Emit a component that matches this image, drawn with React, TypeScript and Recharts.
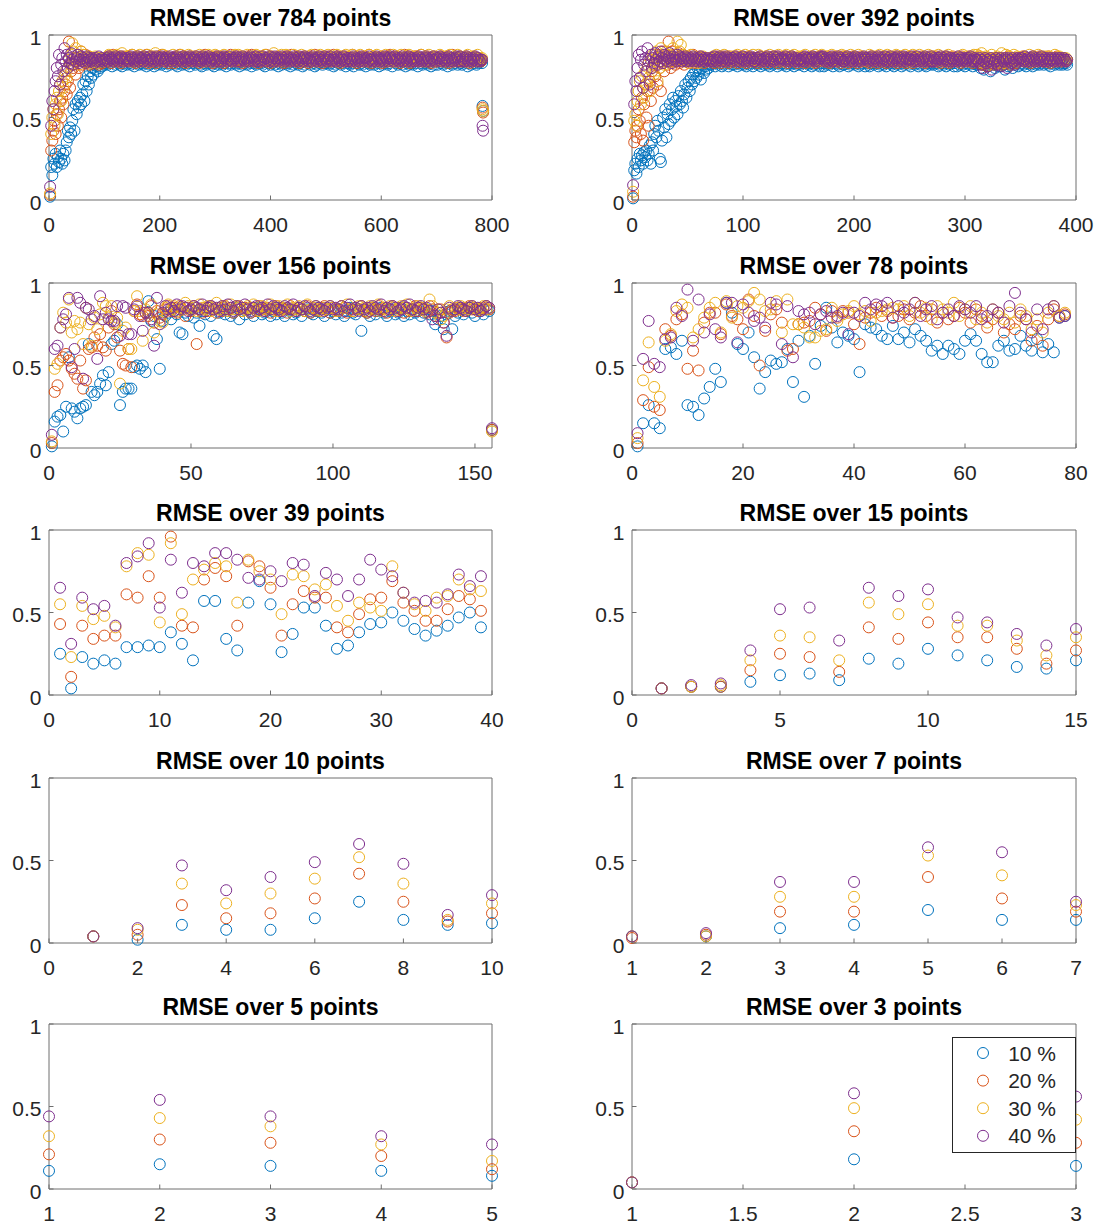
import React from "react";
import { ScatterChart, Scatter, XAxis, YAxis } from "recharts";

// MATLAB default colour order: 10 %, 20 %, 30 %, 40 %
const COLORS = ["#0072BD", "#D95319", "#EDB120", "#7E2F8E"];
const NOISE = ["10 %", "20 %", "30 %", "40 %"];
const FONT = "'Liberation Sans', Arial, Helvetica, sans-serif";
const AXIS = "#6e6e6e";

const seq = (from: number, step: number, n: number) =>
  Array.from({ length: n }, (_, i) => from + step * i);

// ---- RMSE over 784 points (values in hundredths) ----
// x: every 2nd point, plus the last two points
const p1X = [...seq(2, 2, 50), ...seq(102, 2, 341), 783, 784];
const p1Blue = [
  2,20,15,25,22,28,20,26,23,30, 25,22,28,24,30,35,42,38,44,40, 48,55,42,58,52,60,56,62,58,64, 70,60,72,66,75,70,78,74,80,76, 82,79,81,78,83,80,84,81,83,82,
  83,85,82,84,86,83,81,85,84,82,84,83,86,82,85,81,84,83,85,82,
  84,86,83,82,85,84,81,83,86,84,82,85,83,84,82,86,83,81,85,84,
  82,84,85,83,81,86,84,82,83,85,84,82,86,83,84,81,85,83,82,84,
  85,83,84,82,86,81,83,85,84,82,83,86,84,82,85,83,81,84,86,83,
  84,82,85,83,84,86,82,81,85,84,83,82,84,86,83,85,82,84,81,83,
  86,84,82,85,83,84,82,86,83,81,84,85,83,82,86,84,83,85,82,84,
  83,81,84,86,82,85,83,84,82,85,86,83,81,84,83,85,82,84,86,83,
  85,83,82,84,81,86,84,83,85,82,84,83,86,82,84,85,81,83,84,82,
  84,86,83,85,82,83,84,81,86,84,82,85,83,84,82,86,83,85,81,84,
  82,85,84,83,86,82,84,85,83,81,84,82,86,83,85,84,82,83,85,86,
  83,84,82,86,83,85,81,84,82,85,83,86,84,82,83,85,84,81,86,83,
  85,82,84,83,81,84,86,83,85,82,84,83,82,86,84,81,85,83,84,82,
  84,83,86,82,85,84,83,81,84,86,82,85,83,84,86,82,83,85,84,81,
  86,84,83,85,82,83,85,84,82,86,84,81,83,85,82,84,86,83,82,85,
  83,85,81,84,86,83,82,84,85,83,86,82,84,83,81,85,84,82,86,84,
  82,84,85,83,84,82,86,85,83,81,84,83,85,82,84,86,83,84,82,85,
  84,83,82,85,86,84,83,81,85,84,82,84,86,83,85,82,84,83,85,84,
  83,
  57,54,
];
const p1Orange = [
  3,30,36,42,48,40,52,45,55,60, 50,62,58,66,70,64,72,96,68,78, 82,80,86,76,84,88,80,85,90,82, 86,84,88,83,85,87,82,86,84,85, 83,86,84,85,82,84,86,83,85,84,
  85,86,84,87,85,83,86,88,84,85,87,86,84,85,83,86,87,85,84,86,
  87,84,85,86,88,85,84,83,86,87,85,84,86,85,87,84,86,88,85,83,
  84,86,87,85,84,86,83,85,87,86,84,88,85,86,84,87,85,83,86,85,
  86,85,83,87,86,84,85,88,84,86,85,87,83,85,86,84,87,85,86,84,
  85,87,84,86,85,83,87,86,84,85,88,84,86,87,85,84,86,83,85,87,
  84,86,85,84,87,86,85,83,86,84,87,85,86,88,84,85,86,84,87,85,
  86,84,87,85,83,86,84,85,87,86,84,85,88,86,84,87,85,86,83,85,
  87,85,84,86,85,88,84,86,85,83,87,84,86,85,84,86,87,85,84,86,
  85,83,86,87,84,85,86,84,88,85,86,84,85,87,86,83,85,84,86,87,
  84,86,85,83,87,86,84,85,86,88,84,85,87,84,86,85,83,87,85,84,
  86,87,84,85,86,84,88,85,84,86,87,85,83,86,84,85,87,86,84,85,
  85,84,86,88,84,85,86,83,87,85,84,86,85,87,84,86,85,84,88,86,
  83,85,87,84,86,85,84,86,85,87,83,84,86,85,87,84,86,88,85,84,
  86,84,85,87,85,86,83,85,84,86,88,85,84,87,85,83,86,85,84,87,
  85,87,86,84,85,88,84,86,85,84,86,87,85,84,83,86,85,87,84,86,
  84,85,86,87,84,85,86,84,87,85,83,86,85,88,86,84,85,86,84,85,
  87,85,84,86,85,84,87,86,85,83,86,85,84,87,86,85,84,86,85,84,
  85,
  56,53,
];
const p1Yellow = [
  4,40,50,55,45,58,62,52,66,70, 60,72,68,75,78,74,80,85,82,88, 95,90,86,92,84,88,82,86,90,84, 88,85,83,86,84,87,85,83,86,84, 85,87,84,83,86,85,84,86,85,84,
  86,85,87,88,84,86,85,87,86,84,88,85,86,87,85,89,84,86,85,87,
  85,87,86,84,88,86,85,84,87,86,85,88,84,86,87,85,86,84,88,85,
  87,86,84,85,87,89,85,86,84,87,86,85,88,84,85,87,86,85,84,86,
  84,88,86,85,86,84,87,85,88,86,84,85,87,86,85,88,84,86,87,85,
  86,85,87,84,86,88,85,86,87,84,86,85,84,88,86,85,87,84,86,88,
  85,87,84,86,85,87,86,88,84,85,87,86,85,84,86,87,85,88,86,84,
  88,86,85,87,84,86,85,84,88,86,85,87,86,85,84,86,88,85,87,86,
  84,85,87,86,88,85,84,86,85,87,86,84,89,85,86,84,87,86,85,88,
  86,84,85,88,86,87,85,84,86,85,88,86,84,87,85,86,84,88,85,86,
  87,86,84,85,87,86,88,85,84,86,85,87,86,84,88,85,87,86,84,85,
  85,88,86,84,86,85,87,86,85,88,84,86,85,87,86,84,85,88,86,87,
  86,85,87,88,84,86,85,84,87,86,88,85,84,86,85,87,84,86,88,85,
  84,86,85,87,86,88,84,85,86,84,87,86,85,88,84,86,87,85,86,84,
  88,85,86,84,87,85,86,88,85,86,84,87,85,86,88,84,85,87,86,85,
  86,87,84,86,85,88,86,85,84,87,86,85,88,86,84,85,87,86,85,84,
  85,86,88,85,87,84,86,85,87,86,84,88,85,86,84,87,86,85,88,86,
  87,84,86,85,86,87,85,88,84,86,85,87,86,84,85,86,88,85,86,85,
  86,
  55,54,
];
const p1Purple = [
  8,45,60,55,66,72,80,75,88,70, 82,86,78,92,84,88,80,86,83,89, 85,82,87,84,86,88,83,85,87,84, 86,85,83,87,84,86,85,84,86,85, 83,86,84,85,87,84,85,86,84,85,
  85,86,84,87,85,86,85,84,86,87,85,84,86,85,87,86,84,85,86,85,
  86,84,85,87,86,85,84,86,85,87,84,86,85,86,84,87,85,86,84,85,
  87,85,86,84,85,86,87,85,84,86,85,87,86,84,85,86,85,84,87,86,
  84,86,85,86,87,84,85,86,85,84,87,86,85,84,86,85,87,86,84,85,
  86,85,87,84,85,86,84,85,87,86,85,84,86,87,85,84,86,85,86,84,
  85,87,84,86,85,84,86,87,85,86,84,85,87,85,84,86,85,86,87,84,
  86,84,85,86,87,85,84,86,85,84,86,87,85,86,84,85,87,84,86,85,
  84,85,87,85,86,84,86,85,87,84,85,86,84,87,86,85,84,86,85,87,
  85,86,84,85,87,86,85,84,86,85,87,84,86,85,84,87,86,85,84,86,
  87,85,86,84,85,86,84,87,85,86,85,84,86,87,85,84,85,86,87,85,
  84,86,85,87,84,85,86,85,84,87,86,85,84,86,85,87,84,85,86,84,
  86,85,84,86,87,85,84,86,85,84,86,87,85,84,86,85,86,84,87,85,
  85,84,86,85,84,87,86,85,84,86,85,84,87,86,85,84,86,87,85,86,
  84,87,85,86,85,84,86,85,87,84,86,85,84,86,87,85,84,86,85,84,
  86,85,84,87,86,85,84,85,86,87,84,86,85,84,86,85,87,85,84,86,
  85,86,87,84,85,86,85,84,86,85,87,84,86,85,84,86,85,87,86,84,
  87,84,85,86,84,86,87,85,84,86,85,84,86,85,87,84,86,85,84,85,
  85,
  45,42,
];

// ---- RMSE over 392 points ----
const p2X = seq(1, 1, 392);
const p2Blue = [
  1,18,22,16,25,20,28,24,27,22, 29,26,30,24,28,33,22,35,30,40, 45,38,48,42,25,23,36,50,44,55, 38,52,46,58,48,55,62,50,60,57,
  52,63,58,66,60,56,64,70,62,68, 72,66,74,70,76,72,78,74,80,76, 78,73,80,82,77,81,79,83,80,82,
  82,84,83,85,81,83,84,82,85,83,81,84,82,85,83,84,81,83,85,82,
  84,82,85,83,81,84,83,82,85,84,82,83,81,85,84,82,83,84,81,85,
  83,85,82,84,83,81,84,85,82,83,84,82,85,81,83,84,82,85,83,84,
  81,83,84,82,85,83,82,84,81,85,83,84,82,83,85,81,84,83,82,84,
  85,82,83,84,81,84,85,83,82,84,83,81,85,82,84,83,85,82,81,83,
  84,83,81,85,82,83,84,82,85,83,81,84,83,85,82,84,81,83,84,82,
  82,85,84,83,81,84,82,85,83,84,82,83,85,81,84,82,83,85,84,81,
  83,84,82,81,85,83,84,82,83,85,84,81,83,82,85,84,82,83,81,84,
  85,83,84,82,83,81,85,84,82,83,84,85,81,83,82,84,85,83,82,84,
  81,84,83,85,82,84,83,81,84,82,85,83,84,82,81,85,83,84,82,83,
  84,82,85,83,84,81,82,84,85,83,82,84,81,83,85,82,84,83,85,81,
  83,85,81,84,82,83,85,82,84,81,83,85,84,82,83,84,81,85,83,82,
  82,84,83,80,85,82,79,84,83,81,84,82,78,83,85,82,80,84,83,81,
  84,81,83,85,82,79,84,83,81,85,82,84,80,83,82,85,83,81,84,82,
  83,85,82,84,81,83,85,84,82,83,81,84,85,82,83,84,82,85,83,84,
  82,84,85,83,82,84,81,83,85,84,82,83,84,85,82,83,84,82,83,84,
  83,82,
];
const p2Orange = [
  2,35,42,38,45,55,48,40,62,36, 58,70,50,66,45,72,60,78,68,82, 75,86,70,88,80,66,84,90,78,85, 88,82,96,86,80,90,84,88,82,86,
  84,89,83,87,85,88,82,86,84,87, 85,83,86,84,88,85,83,86,84,85, 87,84,86,85,83,86,84,85,86,84,
  85,84,86,83,85,87,84,86,85,83,86,87,84,85,86,84,83,87,85,86,
  84,86,85,87,83,85,86,84,87,85,84,86,83,85,87,86,84,85,86,84,
  86,85,83,86,84,87,85,84,86,85,87,83,85,86,84,85,87,84,86,85,
  83,87,85,84,86,85,84,86,87,83,85,86,84,87,85,84,86,85,83,86,
  85,84,86,87,85,83,86,85,84,86,85,87,84,86,83,85,84,86,87,85,
  87,85,84,86,85,84,87,83,86,85,84,86,85,87,84,86,85,83,85,87,
  84,86,87,85,83,86,84,85,87,84,86,85,83,86,85,87,84,86,85,84,
  86,85,84,83,87,85,86,84,85,86,83,87,85,84,86,85,87,84,83,86,
  85,87,86,84,85,84,86,87,83,85,86,84,87,85,84,86,83,85,86,87,
  84,85,83,86,87,85,84,86,85,84,87,85,86,83,85,86,84,87,85,84,
  86,84,85,87,84,86,85,83,86,85,84,87,85,86,84,83,86,85,87,85,
  85,86,84,85,86,83,87,85,84,86,85,84,86,87,85,84,83,86,85,86,
  84,85,87,83,86,82,85,84,86,81,85,84,83,86,84,82,85,86,84,83,
  86,84,82,85,84,86,83,85,87,84,82,85,86,84,85,83,86,85,84,86,
  85,87,84,86,85,84,86,85,83,86,87,85,84,86,85,84,87,85,86,84,
  84,86,85,84,87,85,83,86,85,84,86,85,87,84,85,86,84,85,86,85,
  84,85,
];
const p2Yellow = [
  5,48,52,45,60,66,72,58,75,68, 62,78,70,82,74,66,85,80,88,76, 84,90,72,86,80,92,84,88,82,86, 90,84,88,85,83,87,92,86,84,88,
  96,85,90,94,86,88,84,86,85,87, 83,86,88,84,85,87,84,86,85,83, 86,85,84,87,85,86,84,85,86,85,
  86,85,87,84,86,88,85,86,84,87,86,85,88,84,86,87,85,84,86,85,
  87,86,84,85,88,86,85,87,84,86,85,88,86,84,87,85,86,84,88,86,
  85,84,86,88,85,87,84,86,85,84,87,86,85,88,84,86,85,87,86,84,
  86,88,85,84,86,85,87,84,88,86,85,84,86,87,85,88,84,86,85,87,
  84,86,87,85,84,88,86,85,86,84,87,85,84,86,88,85,86,87,84,85,
  88,85,86,84,87,86,85,84,86,88,85,87,86,84,85,86,87,85,88,84,
  85,87,84,86,85,84,88,86,85,87,84,86,85,88,86,84,85,87,86,85,
  86,84,85,88,86,87,85,84,87,85,86,84,88,85,86,87,84,85,86,88,
  87,86,84,85,86,85,87,88,84,86,85,87,84,86,85,88,86,84,87,85,
  84,85,88,86,87,84,86,85,88,84,86,85,87,86,84,85,88,86,85,87,
  86,87,85,84,86,88,85,87,84,86,85,84,86,87,88,85,84,86,85,86,
  85,86,84,87,85,86,84,88,86,85,87,86,84,85,86,84,87,88,85,86,
  88,85,87,84,89,86,83,85,87,84,86,82,85,88,84,86,85,83,87,86,
  84,86,89,85,83,86,88,84,85,87,84,86,85,88,86,84,87,85,84,86,
  86,85,87,86,84,85,86,88,85,84,86,87,85,86,84,88,85,86,87,85,
  85,87,84,86,85,87,86,84,86,85,88,84,86,85,87,86,84,85,86,85,
  86,85,
];
const p2Purple = [
  9,58,72,66,80,88,74,85,90,68, 82,86,78,92,84,70,88,80,86,83, 89,85,82,87,84,90,86,83,88,85, 87,84,86,89,85,83,87,85,86,84,
  88,85,87,86,84,86,85,87,84,86, 85,84,86,85,87,84,86,85,84,86, 85,87,84,85,86,84,85,86,85,84,
  85,86,84,87,85,84,86,85,87,86,84,85,86,84,87,85,86,85,84,86,
  86,85,87,84,85,86,84,86,85,87,85,84,86,85,84,86,87,85,86,84,
  84,86,85,86,87,85,84,85,86,84,86,87,85,84,86,85,84,87,85,86,
  87,85,84,86,85,86,85,87,84,85,86,84,85,87,86,84,85,86,84,85,
  85,84,86,85,84,87,86,85,86,84,85,86,87,85,84,86,85,84,86,87,
  86,87,85,84,86,85,84,86,85,87,84,86,85,84,86,87,85,86,85,84,
  84,85,86,87,85,84,86,85,84,86,87,85,84,86,85,84,86,85,87,86,
  85,86,84,85,86,87,85,84,86,85,84,87,86,85,84,86,85,87,84,85,
  86,84,87,85,84,86,85,86,87,84,85,86,84,85,87,86,84,85,86,85,
  85,87,84,86,85,84,87,85,84,86,85,84,86,87,85,84,86,85,84,87,
  84,86,85,84,86,85,86,87,85,84,86,85,87,84,85,86,84,86,85,84,
  86,85,84,87,85,86,84,85,86,85,84,86,85,86,87,84,85,84,86,85,
  85,84,86,82,85,80,84,86,83,85,81,84,86,79,85,83,84,86,82,85,
  84,86,81,85,84,86,85,80,86,84,85,83,86,84,82,85,86,84,85,86,
  86,85,84,87,85,84,86,85,84,86,87,85,84,86,85,84,86,85,87,84,
  85,86,84,85,86,84,85,86,85,84,86,85,84,86,85,86,84,85,86,85,
  84,85,
];

// ---- RMSE over 156 points ----
const p3X = seq(1, 1, 156);
const p3Blue = [
  1,16,19,20,10,25,55,24,22,18, 24,25,26,63,34,32,34,39,44,38, 46,63,65,75,26,34,36,36,36,49, 50,48,50,46,89,77,80,66,48,77,
  80,82,78,83,81,70,69,82,80,84, 79,82,74,83,81,85,80,68,66,82, 84,81,83,80,82,85,78,83,81,84, 82,80,83,85,81,82,84,80,83,81,
  85,82,80,84,83,81,82,85,80,83, 84,82,81,83,85,82,80,84,82,83,
  81,84,82,80,83,85,82,81,84,71, 83,82,80,84,81,83,85,82,80,83, 84,81,82,85,80,83,81,84,82,83, 80,82,84,81,83,75,78,80,72,81,
  83,72,80,82,84,81,83,85,82,80, 84,83,81,84,83, 11,
];
const p3Orange = [
  3,34,38,53,55,57,53,48,45,42, 53,36,41,60,61,67,62,69,61,59, 73,83,75,67,59,51,50,60,49,83, 87,81,80,82,80,86,76,83,79,81,
  84,86,83,85,82,86,84,80,85,83, 86,63,84,82,85,83,86,84,82,85, 83,86,84,85,82,84,86,83,85,84, 82,85,83,86,84,83,85,82,84,86,
  83,85,84,82,86,84,83,85,84,83, 86,82,85,84,83,85,86,84,82,85,
  84,83,86,85,82,84,83,85,84,86, 83,82,85,84,83,86,84,85,82,84, 86,83,85,84,82,85,83,84,86,83, 85,84,82,86,84,80,82,84,76,67,
  82,84,83,85,84,83,85,86,84,85, 83,84,85,86,84, 11,
];
const p3Yellow = [
  4,48,51,73,82,76,90,70,77,72, 76,63,85,75,62,79,72,81,88,86, 79,86,76,79,39,71,73,60,60,83, 92,83,65,84,82,87,70,81,77,76,
  85,87,84,86,83,85,84,88,86,84, 85,83,87,85,84,86,83,85,88,84, 86,85,83,87,84,86,85,83,84,86, 85,87,84,83,86,85,84,87,85,83,
  86,84,85,87,83,85,84,86,85,83, 87,84,85,86,84,83,85,84,86,85,
  83,84,86,85,87,84,83,85,86,84, 85,83,86,85,84,87,83,85,84,86, 85,83,84,86,85,87,84,83,85,86, 84,85,83,90,86,82,84,78,80,84,
  86,83,85,84,86,85,83,84,86,85, 84,85,86,84,85, 10,
];
const p3Purple = [
  8,60,62,73,78,81,91,49,60,91, 88,42,85,84,78,80,54,92,78,82, 78,77,77,86,68,86,85,69,69,84, 86,80,71,82,82,78,62,91,75,82,
  86,84,85,83,87,84,86,85,83,84, 86,85,84,87,83,85,86,84,85,83, 86,84,87,85,83,86,84,85,87,84, 83,85,86,84,85,83,87,84,86,85,
  84,83,86,85,84,87,83,85,84,86, 85,83,84,86,85,84,83,85,86,84,
  85,84,86,83,85,87,84,85,83,86, 84,85,83,86,85,84,87,83,85,84, 86,85,83,84,86,85,87,84,83,85, 86,84,85,83,78,80,84,82,76,68,
  85,83,84,86,85,84,83,85,86,84, 85,83,84,86,85, 12,
];

// ---- RMSE over 78 points ----
const p4X = seq(1, 1, 78);
const p4Blue = [
  1,15,26,15,12,60,61,57,65,26, 25,20,30,37,48,40,88,82,63,60, 70,55,36,46,53,51,52,60,40,65, 31,68,51,74,85,73,64,70,68,66,
  46,75,73,72,68,66,74,66,70,64, 72,68,65,59,62,57,62,60,57,65, 69,65,57,52,52,62,65,59,60,68, 62,59,66,58,63,58,79,80,
];
const p4Orange = [
  3,29,49,25,23,72,68,78,81,48, 59,47,76,82,82,69,87,80,78,72, 90,80,50,71,81,84,76,59,60,75, 76,77,85,81,71,83,79,83,82,75,
  63,79,82,85,80,83,79,80,84,78, 82,86,80,84,76,82,78,80,85,82, 76,84,80,73,78,82,70,75,72,80, 78,65,74,62,78,84,80,81,
];
const p4Yellow = [
  6,41,64,37,31,65,69,83,87,85, 67,72,79,85,88,70,89,79,86,85, 89,94,90,83,84,89,70,90,75,75, 73,67,67,71,72,85,77,81,83,86,
  81,83,77,82,83,84,85,84,86,80, 88,82,85,78,86,84,82,88,80,84, 86,78,82,76,84,80,78,82,76,84, 80,72,78,70,82,86,80,82,
];
const p4Purple = [
  9,54,77,51,49,66,67,85,80,96, 65,90,70,81,72,67,88,88,64,87, 82,77,79,73,88,87,63,86,55,83, 81,82,75,81,83,79,80,82,69,82,
  80,88,84,87,86,88,79,86,82,84, 88,80,84,86,78,82,84,80,86,84, 82,86,78,80,84,82,76,86,94,82, 78,70,84,72,84,86,79,80,
];

// ---- RMSE over 39 points ----
const p5X = seq(1, 1, 39);
const p5Blue = [25,4,23,19,21,19,29,29,30,29,38,31,21,57,57,34,27,56,69,55,26,37,53,53,42,28,30,38,43,44,50,45,40,36,39,42,47,50,41];
const p5Orange = [43,11,42,34,36,36,61,59,72,59,96,42,41,70,77,72,42,81,78,65,36,55,63,59,59,41,38,49,58,59,69,56,51,45,45,52,60,58,51];
const p5Yellow = [55,23,54,46,48,41,78,86,85,44,92,49,70,76,80,78,56,82,75,70,49,73,72,64,67,54,45,56,53,51,78,62,55,51,59,60,70,64,63];
const p5Purple = [65,31,59,52,54,42,80,84,92,53,82,62,80,78,86,86,82,71,70,75,69,80,79,60,74,70,60,70,82,76,72,62,56,57,56,61,73,66,72];

// ---- RMSE over 15 points ----
const p6X = seq(1, 1, 15);
const p6Blue = [4,5,5,8,12,13,9,22,19,28,24,21,17,16,21];
const p6Orange = [4,5,5,15,25,23,14,41,34,44,35,35,28,19,27];
const p6Yellow = [4,5,6,21,36,35,21,56,49,55,42,42,33,24,35];
const p6Purple = [4,6,7,27,52,53,33,65,60,64,47,44,37,30,40];

// ---- RMSE over 10 points ----
const p7X = seq(1, 1, 10);
const p7Blue = [4,2,11,8,8,15,25,14,11,12];
const p7Orange = [4,5,23,15,18,27,42,25,13,18];
const p7Yellow = [4,8,36,24,30,39,52,36,14,24];
const p7Purple = [4,9,47,32,40,49,60,48,17,29];

// ---- RMSE over 7 points ----
const p8X = seq(1, 1, 7);
const p8Blue = [4,4,9,11,20,14,14];
const p8Orange = [3,5,19,19,40,27,19];
const p8Yellow = [4,4,28,28,53,41,23];
const p8Purple = [4,6,37,37,58,55,25];

// ---- RMSE over 5 points ----
const p9X = seq(1, 1, 5);
const p9Blue = [11,15,14,11,8];
const p9Orange = [21,30,28,20,12];
const p9Yellow = [32,43,38,27,17];
const p9Purple = [44,54,44,32,27];

// ---- RMSE over 3 points ----
const p10X = seq(1, 1, 3);
const p10Blue = [4,18,14];
const p10Orange = [4,35,28];
const p10Yellow = [4,49,42];
const p10Purple = [4,58,56];

const Y_TICKS = [0, 0.5, 1];

const PANELS = [
  { title: "RMSE over 784 points", domain: [0, 800], ticks: [0, 200, 400, 600, 800], x: p1X, s: [p1Blue, p1Orange, p1Yellow, p1Purple] },
  { title: "RMSE over 392 points", domain: [0, 400], ticks: [0, 100, 200, 300, 400], x: p2X, s: [p2Blue, p2Orange, p2Yellow, p2Purple] },
  { title: "RMSE over 156 points", domain: [0, 156], ticks: [0, 50, 100, 150], x: p3X, s: [p3Blue, p3Orange, p3Yellow, p3Purple] },
  { title: "RMSE over 78 points", domain: [0, 80], ticks: [0, 20, 40, 60, 80], x: p4X, s: [p4Blue, p4Orange, p4Yellow, p4Purple] },
  { title: "RMSE over 39 points", domain: [0, 40], ticks: [0, 10, 20, 30, 40], x: p5X, s: [p5Blue, p5Orange, p5Yellow, p5Purple] },
  { title: "RMSE over 15 points", domain: [0, 15], ticks: [0, 5, 10, 15], x: p6X, s: [p6Blue, p6Orange, p6Yellow, p6Purple] },
  { title: "RMSE over 10 points", domain: [0, 10], ticks: [0, 2, 4, 6, 8, 10], x: p7X, s: [p7Blue, p7Orange, p7Yellow, p7Purple] },
  { title: "RMSE over 7 points", domain: [1, 7], ticks: [1, 2, 3, 4, 5, 6, 7], x: p8X, s: [p8Blue, p8Orange, p8Yellow, p8Purple] },
  { title: "RMSE over 5 points", domain: [1, 5], ticks: [1, 2, 3, 4, 5], x: p9X, s: [p9Blue, p9Orange, p9Yellow, p9Purple] },
  { title: "RMSE over 3 points", domain: [1, 3], ticks: [1, 1.5, 2, 2.5, 3], x: p10X, s: [p10Blue, p10Orange, p10Yellow, p10Purple] },
];

// layout of the axes boxes (page pixels)
const COL_LEFT = [49, 632];
const COL_W = [443, 444];
const ROW_TOP = [35, 283, 530, 778, 1024];
const BOX_H = 165;
const ML = 50, MR = 25, MT = 12, MB = 42;
const TICK = 4.5;
const TICK_FONT = 21;

const textStyle = { fontFamily: FONT, fontSize: TICK_FONT, fill: "#262626" };

// every axis is 1px thick so that Recharts still draws it
const BottomTick = (p: any) => (
  <g>
    <line x1={p.x} x2={p.x} y1={p.y} y2={p.y - TICK} stroke={AXIS} />
    <text x={p.x} y={p.y + 32} textAnchor="middle" {...textStyle}>{p.payload.value}</text>
  </g>
);
const TopTick = (p: any) => <line x1={p.x} x2={p.x} y1={p.y} y2={p.y + TICK} stroke={AXIS} />;
const LeftTick = (p: any) => (
  <g>
    <line x1={p.x} x2={p.x + TICK} y1={p.y} y2={p.y} stroke={AXIS} />
    <text x={p.x - 7.5} y={p.y + 9.5} textAnchor="end" {...textStyle}>{p.payload.value}</text>
  </g>
);
const RightTick = (p: any) => <line x1={p.x} x2={p.x - TICK} y1={p.y} y2={p.y} stroke={AXIS} />;

const ring = (color: string) => (p: any) =>
  <circle cx={p.cx} cy={p.cy} r={5.5} fill="none" stroke={color} strokeWidth={1} />;

function Subplot({ panel, idx }: { panel: any; idx: number }) {
  const col = idx % 2;
  const row = Math.floor(idx / 2);
  const left = COL_LEFT[col];
  const top = ROW_TOP[row];
  const w = COL_W[col];
  const W = w + ML + MR;
  const H = BOX_H + MT + MB;
  const data = panel.s.map((vals: number[]) =>
    vals.map((v, i) => ({ x: panel.x[i], y: v / 100 }))
  );
  return (
    <>
      <div
        style={{
          position: "absolute", left, top: top - 28.5, width: w, textAlign: "center",
          fontFamily: FONT, fontWeight: "bold", fontSize: 23, lineHeight: "23px", color: "#000",
        }}
      >
        {panel.title}
      </div>
      <div style={{ position: "absolute", left: left - ML, top: top - MT, width: W, height: H }}>
        <ScatterChart width={W} height={H} margin={{ top: MT - 1, right: MR - 1, bottom: MB - 1, left: ML - 1 }}>
          <XAxis xAxisId="b" type="number" dataKey="x" domain={panel.domain} ticks={panel.ticks}
            interval={0} height={1} tickSize={0} tickMargin={0} tickLine={false}
            axisLine={{ stroke: AXIS }} tick={BottomTick} />
          <XAxis xAxisId="t" orientation="top" type="number" dataKey="x" domain={panel.domain} ticks={panel.ticks}
            interval={0} height={1} tickSize={0} tickMargin={0} tickLine={false}
            axisLine={{ stroke: AXIS }} tick={TopTick} />
          <YAxis yAxisId="l" type="number" dataKey="y" domain={[0, 1]} ticks={Y_TICKS}
            interval={0} width={1} tickSize={0} tickMargin={0} tickLine={false}
            axisLine={{ stroke: AXIS }} tick={LeftTick} />
          <YAxis yAxisId="r" orientation="right" type="number" dataKey="y" domain={[0, 1]} ticks={Y_TICKS}
            interval={0} width={1} tickSize={0} tickMargin={0} tickLine={false}
            axisLine={{ stroke: AXIS }} tick={RightTick} />
          {data.map((d: any[], i: number) => (
            <Scatter key={i} name={NOISE[i]} data={d} xAxisId="b" yAxisId="l"
              shape={ring(COLORS[i])} isAnimationActive={false} />
          ))}
        </ScatterChart>
      </div>
    </>
  );
}

function NoiseLegend() {
  return (
    <div style={{ position: "absolute", left: 952, top: 1037, width: 124, height: 116, background: "#fff" }}>
      <svg width={124} height={116} style={{ display: "block" }}>
        <rect x={0.5} y={0.5} width={123} height={115} fill="#fff" stroke="#262626" />
        {NOISE.map((label, i) => (
          <g key={label}>
            <circle cx={31} cy={16 + i * 27.6} r={5.5} fill="none" stroke={COLORS[i]} />
            <text x={104} y={16 + i * 27.6 + 7.5} textAnchor="end" {...textStyle}>{label}</text>
          </g>
        ))}
      </svg>
    </div>
  );
}

export default function App() {
  return (
    <div style={{ position: "absolute", left: 0, top: 0, width: 1097, height: 1224, background: "#fff" }}>
      {PANELS.map((p, i) => (
        <Subplot key={p.title} panel={p} idx={i} />
      ))}
      <NoiseLegend />
    </div>
  );
}
